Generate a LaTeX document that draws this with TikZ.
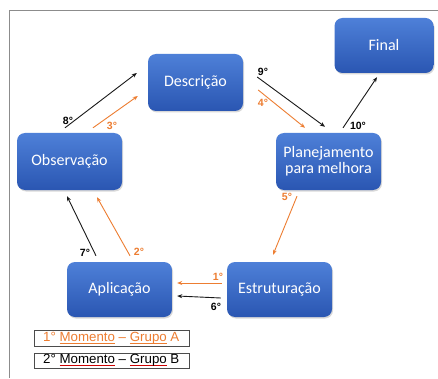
\documentclass[tikz,border=0pt]{standalone}
\usepackage{fontspec}
\setmainfont{Liberation Sans}
\newfontfamily\carl{Carlito}
\usetikzlibrary{calc,shadows,arrows.meta}
\definecolor{orng}{RGB}{237,125,49}
\definecolor{bluetop}{RGB}{78,128,216}
\definecolor{bluebot}{RGB}{42,86,178}
\definecolor{framegray}{RGB}{140,140,140}
\newcommand\myul[2]{\setbox0\hbox{#2}\rlap{\color{#1}\rule[-2.2pt]{\wd0}{0.6pt}}\box0\relax}
\tikzset{
  stage/.style={rounded corners=8pt, top color=bluetop, bottom color=bluebot, draw=none,
    text=white, font=\carl\fontsize{16}{17}\selectfont, align=center, inner sep=0pt,
    drop shadow={shadow xshift=1pt, shadow yshift=-1.5pt, opacity=0.3}},
  blk/.style={draw=black!90, line width=0.9pt, -{Stealth[length=5pt,width=4pt]}},
  org/.style={draw=orng, line width=0.9pt, -{Stealth[length=5pt,width=4pt]}},
  nlab/.style={font=\bfseries\fontsize{10.5}{12}\selectfont, inner sep=0pt},
  legbox/.style={draw=black!70, line width=0.7pt, minimum width=155pt, minimum height=15.5pt,
    inner sep=0pt, anchor=north west},
  legtext/.style={anchor=west, inner sep=0pt, font=\fontsize{13.3}{15}\selectfont}
}
\begin{document}
\begin{tikzpicture}[x=1pt,y=-1pt]
\useasboundingbox (0,0) rectangle (438,379);
\fill[white] (0,0) rectangle (438,379);
\draw[framegray, line width=0.8pt] (445,10) -- (9,10) -- (9,378);
% stages
\node[stage, minimum width=95pt, minimum height=57pt] (desc) at (195.5,82.5) {Descrição};
\node[stage, minimum width=99pt, minimum height=55pt] (fin) at (384,45.5) {Final};
\node[stage, minimum width=105pt, minimum height=57pt] (obs) at (69.5,161.5) {Observação};
\node[stage, minimum width=105pt, minimum height=57pt] (plan) at (328.5,161.5) {Planejamento\\[-1pt]para melhora};
\node[stage, minimum width=105pt, minimum height=55pt] (apl) at (119.5,289.5) {Aplicação};
\node[stage, minimum width=105pt, minimum height=55pt] (est) at (279.5,289.5) {Estruturação};
% connectors
\draw[blk] ($(obs.north)+(-4.5,-5)$) -- ($(desc.west)+(-11,-9.5)$);
\draw[org] ($(obs.north)+(23.5,-5)$) -- ($(desc.west)+(-10,13.5)$);
\draw[blk] ($(desc.east)+(14,-5.5)$) -- ($(plan.north)+(-3.5,-6)$);
\draw[org] ($(desc.east)+(15,7.5)$) -- ($(plan.north)+(-23.5,-5)$);
\draw[blk] ($(plan.north)+(14.5,-5)$) -- ($(fin.south)+(-7,4)$);
\draw[org] ($(plan.south)+(-31.5,6)$) -- ($(est.north)+(-6.5,-7)$);
\draw[org] ($(est.west)+(-5,-6.5)$) -- ($(apl.east)+(5,-6.5)$);
\draw[blk] ($(est.west)+(-6,8.5)$) -- ($(apl.east)+(5,6.5)$);
\draw[blk] ($(apl.north)+(-23.5,-6)$) -- ($(obs.south)+(-2.5,6)$);
\draw[org] ($(apl.north)+(10.5,-6)$) -- ($(obs.south)+(27.5,7)$);
% labels
\node[nlab] (l8) at (68,121) {8°};
\node[nlab, text=orng] (l3) at (112,126) {3°};
\node[nlab] (l9) at (263,72) {9°};
\node[nlab, text=orng] (l4) at (263,103) {4°};
\node[nlab] (l10) at (358,126) {10°};
\node[nlab, text=orng] (l5) at (287,197) {5°};
\node[nlab, text=orng] (l1) at (218,277) {1°};
\node[nlab] (l6) at (216,307) {6°};
\node[nlab] (l7) at (85,253) {7°};
\node[nlab, text=orng] (l2) at (139,252) {2°};
% legend
\node[legbox] (lgA) at (34,330) {};
\node[legtext, text=orng] (lgAt) at ($(lgA.west)+(9,0)$)
  {1° \myul{orng}{Momento} – \myul{orng}{Grupo} A};
\node[legbox] (lgB) at (34,352.5) {};
\node[legtext] (lgBt) at ($(lgB.west)+(9,0)$)
  {2° \myul{red!80!black}{Momento} – \myul{red!80!black}{Grupo} B};
\end{tikzpicture}
\end{document}
